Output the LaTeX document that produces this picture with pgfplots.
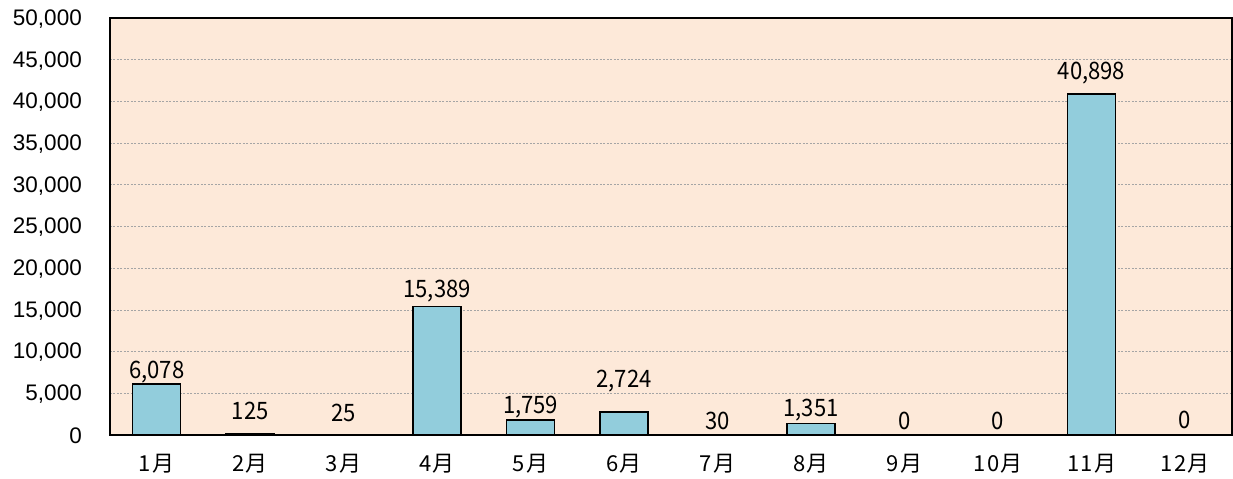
\documentclass[border=0pt]{standalone}
\usepackage{fontspec}
\usepackage{pgfplots}
\pgfplotsset{compat=1.18}
\usepackage{pgfplotstable}
\newfontfamily\jp[LetterSpace=6]{Noto Sans CJK JP}
\newfontfamily\lab[FakeStretch=0.92]{Noto Sans CJK JP}
\newfontfamily\arial{Liberation Sans}
\definecolor{bgpeach}{RGB}{253,233,217}
\definecolor{barblue}{RGB}{146,205,220}
\definecolor{gridgray}{RGB}{165,165,165}
\pgfplotstableread{
x y off
0 6078 12
1 125 22.5
2 25 21.5
3 15389 16
4 1759 13
5 2724 31
6 30 14
7 1351 14
8 0 14
9 0 14
10 40898 21
11 0 15
}\datatab
\begin{document}
\begin{tikzpicture}
\begin{axis}[
  scale only axis,
  width=1122pt, height=417pt,
  xmin=-0.5, xmax=11.5,
  ymin=0, ymax=50000,
  clip=false,
  axis background/.style={fill=bgpeach},
  axis line style={line width=2.5pt, black},
  ytick={0,5000,...,50000},
  scaled y ticks=false,
  /pgf/number format/.cd, 1000 sep={,}, assume math mode=true, /pgfplots/.cd,
  yticklabel style={font=\arial\fontsize{22.5}{26}\selectfont, anchor=east, inner sep=0pt, xshift=-28pt, yshift=-1pt},
  xtick={0,...,11},
  xticklabels={1月,2月,3月,4月,5月,6月,7月,8月,9月,10月,11月,12月},
  xticklabel style={font=\jp\fontsize{22}{26}\selectfont, anchor=center, inner sep=0pt, yshift=-29pt},
  major tick length=0pt,
  ymajorgrids,
  xmajorgrids=false,
  major grid style={gridgray, line width=0.6pt, dash pattern=on 2pt off 1.5pt},
]
\path ([xshift=-110pt,yshift=-44pt]rel axis cs:0,0) rectangle ([xshift=1pt,yshift=18pt]rel axis cs:1,1);
\addplot[ybar, bar width=48pt, fill=barblue, draw=black, line width=1.5pt,
  visualization depends on={\thisrow{off} \as \off},
  nodes near coords={\pgfmathprintnumber[1000 sep={,},assume math mode=true]{\pgfplotspointmeta}},
  every node near coord/.append style={font=\lab\fontsize{24}{28}\selectfont, anchor=center, inner sep=0pt, yshift=\off pt},
] table[x=x, y=y] {\datatab};
\end{axis}
\end{tikzpicture}
\end{document}
